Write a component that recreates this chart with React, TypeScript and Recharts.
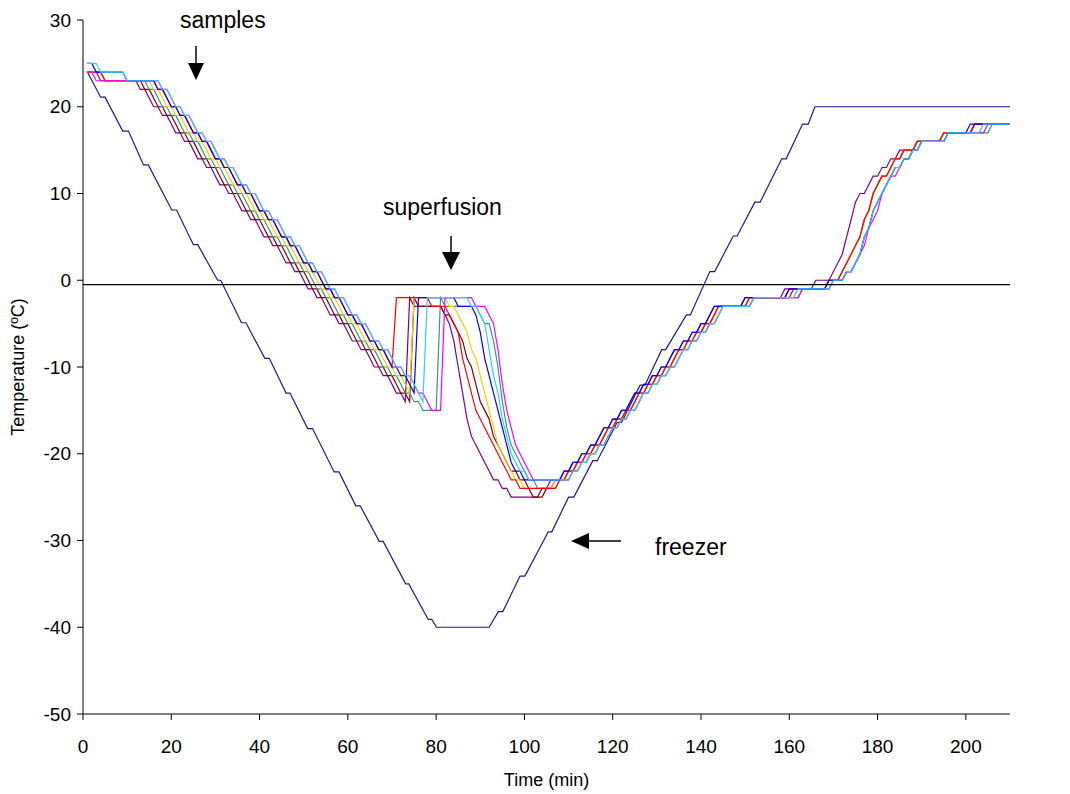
import { LineChart, Line, XAxis, YAxis, ReferenceLine } from "recharts";

// minutes 1..210, one reading per minute
const minutes = Array.from({ length: 210 }, (_, i) => i + 1);

const purple = [
  24, 24, 24, 23, 23, 23, 23, 23, 23, 23,
  23, 23, 22, 22, 21, 20, 20, 19, 19, 18,
  17, 17, 16, 16, 15, 14, 14, 13, 13, 12,
  11, 11, 10, 10, 9, 8, 8, 7, 7, 6,
  5, 5, 4, 4, 3, 2, 2, 1, 1, 0,
  -1, -1, -2, -2, -3, -4, -4, -5, -5, -6,
  -7, -7, -8, -8, -9, -10, -10, -11, -11, -12,
  -13, -13, -14, -2, -3, -3, -3, -3, -3, -3,
  -3, -4, -5, -7, -10, -13, -16, -18, -19, -20,
  -21, -22, -23, -23, -24, -24, -25, -25, -25, -25,
  -25, -25, -25, -24, -24, -23, -23, -23, -22, -22,
  -21, -21, -20, -20, -19, -19, -18, -17, -17, -16,
  -16, -15, -15, -14, -13, -13, -12, -12, -11, -11,
  -10, -10, -9, -8, -8, -7, -7, -6, -6, -5,
  -5, -4, -3, -3, -3, -3, -3, -3, -3, -2,
  -2, -2, -2, -2, -2, -2, -2, -2, -1, -1,
  -1, -1, -1, -1, -1, 0, 0, 0, 0, 1,
  2, 3, 5, 7, 9, 10, 10, 11, 12, 12,
  13, 13, 14, 14, 15, 15, 15, 15, 16, 16,
  16, 16, 16, 16, 17, 17, 17, 17, 17, 17,
  17, 18, 18, 18, 18, 18, 18, 18, 18, 18,
];

const maroon = [
  24, 24, 24, 24, 23, 23, 23, 23, 23, 23,
  23, 23, 23, 22, 22, 21, 20, 20, 19, 19,
  18, 17, 17, 16, 16, 15, 14, 14, 13, 13,
  12, 11, 11, 10, 10, 9, 8, 8, 7, 7,
  6, 5, 5, 4, 4, 3, 2, 2, 1, 1,
  0, -1, -1, -2, -2, -3, -4, -4, -5, -5,
  -6, -7, -7, -8, -8, -9, -10, -10, -11, -11,
  -12, -13, -13, -14, -2, -3, -3, -3, -3, -3,
  -3, -4, -4, -5, -6, -7, -9, -10, -12, -14,
  -15, -16, -18, -19, -20, -21, -22, -22, -23, -23,
  -24, -25, -25, -25, -24, -24, -23, -23, -23, -22,
  -22, -21, -21, -20, -20, -19, -19, -18, -17, -17,
  -16, -16, -15, -15, -14, -13, -13, -12, -12, -11,
  -11, -10, -10, -9, -8, -8, -7, -7, -6, -6,
  -5, -5, -4, -3, -3, -3, -3, -3, -3, -3,
  -2, -2, -2, -2, -2, -2, -2, -2, -2, -1,
  -1, -1, -1, -1, -1, -1, -1, -1, 0, 0,
  0, 1, 2, 3, 4, 5, 7, 8, 10, 11,
  12, 12, 13, 14, 14, 15, 15, 15, 16, 16,
  16, 16, 16, 16, 17, 17, 17, 17, 17, 17,
  17, 18, 18, 18, 18, 18, 18, 18, 18, 18,
];

const teal = [
  24, 24, 24, 24, 23, 23, 23, 23, 23, 23,
  23, 23, 23, 23, 22, 22, 21, 20, 20, 19,
  19, 18, 17, 17, 16, 16, 15, 14, 14, 13,
  13, 12, 11, 11, 10, 10, 9, 8, 8, 7,
  7, 6, 5, 5, 4, 4, 3, 2, 2, 1,
  1, 0, -1, -1, -2, -2, -3, -4, -4, -5,
  -5, -6, -7, -7, -8, -8, -9, -10, -10, -11,
  -11, -12, -13, -13, -14, -14, -15, -15, -15, -15,
  -2, -3, -3, -3, -3, -3, -3, -3, -3, -4,
  -5, -5, -7, -10, -14, -17, -19, -20, -21, -22,
  -23, -23, -24, -24, -24, -24, -24, -23, -23, -23,
  -22, -22, -21, -21, -20, -20, -19, -19, -18, -17,
  -17, -16, -16, -15, -15, -14, -13, -13, -12, -12,
  -11, -11, -10, -10, -9, -8, -8, -7, -7, -6,
  -6, -5, -5, -4, -3, -3, -3, -3, -3, -3,
  -3, -2, -2, -2, -2, -2, -2, -2, -2, -2,
  -2, -2, -1, -1, -1, -1, -1, -1, -1, 0,
  0, 0, 1, 1, 2, 3, 5, 6, 8, 9,
  10, 11, 12, 13, 13, 14, 14, 15, 15, 16,
  16, 16, 16, 16, 16, 17, 17, 17, 17, 17,
  17, 17, 17, 17, 17, 18, 18, 18, 18, 18,
];

const red = [
  24, 24, 24, 24, 23, 23, 23, 23, 23, 23,
  23, 23, 23, 23, 23, 23, 22, 22, 21, 20,
  20, 19, 19, 18, 17, 17, 16, 16, 15, 14,
  14, 13, 13, 12, 11, 11, 10, 10, 9, 8,
  8, 7, 7, 6, 5, 5, 4, 4, 3, 2,
  2, 1, 1, 0, -1, -1, -2, -2, -3, -4,
  -4, -5, -5, -6, -7, -7, -8, -8, -9, -10,
  -2, -2, -2, -2, -2, -2, -2, -2, -3, -3,
  -3, -3, -4, -5, -6, -9, -11, -13, -15, -16,
  -17, -18, -19, -20, -21, -22, -23, -23, -24, -24,
  -24, -24, -24, -24, -24, -24, -24, -23, -23, -22,
  -22, -21, -21, -20, -20, -19, -19, -18, -17, -17,
  -16, -16, -15, -15, -14, -13, -13, -12, -12, -11,
  -11, -10, -10, -9, -8, -8, -7, -7, -6, -6,
  -5, -5, -4, -3, -3, -3, -3, -3, -3, -3,
  -2, -2, -2, -2, -2, -2, -2, -2, -2, -2,
  -1, -1, -1, -1, -1, -1, -1, -1, 0, 0,
  0, 1, 2, 3, 4, 5, 7, 8, 10, 11,
  12, 12, 13, 14, 14, 15, 15, 15, 16, 16,
  16, 16, 16, 16, 17, 17, 17, 17, 17, 17,
  17, 18, 18, 18, 18, 18, 18, 18, 18, 18,
];

const gold = [
  24, 24, 24, 24, 23, 23, 23, 23, 23, 23,
  23, 23, 23, 23, 23, 22, 22, 21, 20, 20,
  19, 19, 18, 17, 17, 16, 16, 15, 14, 14,
  13, 13, 12, 11, 11, 10, 10, 9, 8, 8,
  7, 7, 6, 5, 5, 4, 4, 3, 2, 2,
  1, 1, 0, -1, -1, -2, -2, -3, -4, -4,
  -5, -5, -6, -7, -7, -8, -8, -9, -10, -10,
  -11, -11, -12, -13, -2, -2, -2, -2, -2, -2,
  -2, -2, -3, -3, -4, -5, -6, -8, -9, -11,
  -13, -15, -17, -19, -20, -21, -22, -23, -23, -24,
  -24, -24, -24, -24, -24, -24, -23, -23, -23, -22,
  -22, -21, -21, -20, -20, -19, -19, -18, -17, -17,
  -16, -16, -15, -15, -14, -13, -13, -12, -12, -11,
  -11, -10, -10, -9, -8, -8, -7, -7, -6, -6,
  -5, -5, -4, -3, -3, -3, -3, -3, -3, -3,
  -2, -2, -2, -2, -2, -2, -2, -2, -2, -2,
  -2, -1, -1, -1, -1, -1, -1, -1, -1, 0,
  0, 1, 2, 3, 4, 5, 7, 8, 10, 11,
  12, 12, 13, 14, 14, 15, 15, 15, 16, 16,
  16, 16, 16, 16, 17, 17, 17, 17, 17, 17,
  17, 17, 17, 18, 18, 18, 18, 18, 18, 18,
];

const blue = [
  25, 25, 24, 24, 24, 24, 24, 24, 24, 23,
  23, 23, 23, 23, 23, 23, 22, 22, 21, 20,
  20, 19, 19, 18, 17, 17, 16, 16, 15, 14,
  14, 13, 13, 12, 11, 11, 10, 10, 9, 8,
  8, 7, 7, 6, 5, 5, 4, 4, 3, 2,
  2, 1, 1, 0, -1, -1, -2, -2, -3, -4,
  -4, -5, -5, -6, -7, -7, -8, -8, -9, -10,
  -10, -11, -11, -12, -13, -2, -2, -2, -2, -2,
  -2, -2, -2, -2, -3, -3, -3, -3, -4, -6,
  -9, -11, -13, -15, -17, -19, -21, -22, -22, -23,
  -23, -23, -23, -23, -23, -23, -23, -23, -22, -22,
  -21, -21, -20, -20, -19, -19, -18, -17, -17, -16,
  -16, -15, -15, -14, -13, -13, -12, -12, -11, -11,
  -10, -10, -9, -8, -8, -7, -7, -6, -6, -5,
  -5, -4, -3, -3, -3, -3, -3, -3, -3, -2,
  -2, -2, -2, -2, -2, -2, -2, -2, -2, -1,
  -1, -1, -1, -1, -1, -1, -1, -1, 0, 0,
  0, 0, 1, 1, 2, 3, 5, 6, 8, 9,
  10, 11, 12, 13, 13, 14, 14, 15, 15, 16,
  16, 16, 16, 16, 16, 17, 17, 17, 17, 17,
  18, 18, 18, 18, 18, 18, 18, 18, 18, 18,
];

const cyan = [
  25, 25, 25, 24, 24, 24, 24, 24, 24, 23,
  23, 23, 23, 23, 23, 23, 23, 22, 22, 21,
  20, 20, 19, 19, 18, 17, 17, 16, 16, 15,
  14, 14, 13, 13, 12, 11, 11, 10, 10, 9,
  8, 8, 7, 7, 6, 5, 5, 4, 4, 3,
  2, 2, 1, 1, 0, -1, -1, -2, -2, -3,
  -4, -4, -5, -5, -6, -7, -7, -8, -8, -9,
  -10, -10, -11, -11, -12, -13, -14, -2, -2, -2,
  -2, -2, -2, -2, -2, -2, -2, -3, -3, -4,
  -5, -8, -11, -13, -16, -18, -20, -21, -22, -22,
  -23, -23, -23, -23, -23, -23, -23, -23, -23, -23,
  -22, -22, -21, -21, -20, -20, -19, -19, -18, -17,
  -17, -16, -16, -15, -15, -14, -13, -13, -12, -12,
  -11, -11, -10, -10, -9, -8, -8, -7, -7, -6,
  -6, -5, -5, -4, -3, -3, -3, -3, -3, -3,
  -3, -2, -2, -2, -2, -2, -2, -2, -2, -2,
  -2, -1, -1, -1, -1, -1, -1, -1, -1, 0,
  0, 0, 1, 1, 2, 3, 5, 6, 8, 9,
  10, 11, 12, 13, 13, 14, 14, 15, 15, 16,
  16, 16, 16, 16, 16, 17, 17, 17, 17, 17,
  17, 17, 17, 18, 18, 18, 18, 18, 18, 18,
];

const magenta = [
  24, 24, 23, 23, 23, 23, 23, 23, 23, 23,
  23, 23, 23, 23, 23, 23, 23, 22, 22, 21,
  20, 20, 19, 19, 18, 17, 17, 16, 16, 15,
  14, 14, 13, 13, 12, 11, 11, 10, 10, 9,
  8, 8, 7, 7, 6, 5, 5, 4, 4, 3,
  2, 2, 1, 1, 0, -1, -1, -2, -2, -3,
  -4, -4, -5, -5, -6, -7, -7, -8, -8, -9,
  -10, -10, -11, -11, -12, -13, -13, -14, -15, -15,
  -15, -2, -2, -2, -2, -2, -2, -2, -3, -3,
  -3, -4, -5, -8, -12, -15, -17, -19, -20, -21,
  -22, -23, -23, -23, -23, -23, -23, -23, -23, -23,
  -22, -22, -21, -21, -20, -20, -19, -19, -18, -17,
  -17, -16, -16, -15, -15, -14, -13, -13, -12, -12,
  -11, -11, -10, -10, -9, -8, -8, -7, -7, -6,
  -6, -5, -5, -4, -3, -3, -3, -3, -3, -3,
  -3, -2, -2, -2, -2, -2, -2, -2, -2, -2,
  -2, -2, -1, -1, -1, -1, -1, -1, -1, 0,
  0, 0, 1, 1, 2, 3, 4, 6, 7, 8,
  10, 11, 12, 12, 13, 14, 14, 15, 15, 16,
  16, 16, 16, 16, 16, 17, 17, 17, 17, 17,
  17, 17, 17, 17, 18, 18, 18, 18, 18, 18,
];

// freezer: corner points of its ramp
const freezerTime = [
  1, 4, 5, 9, 10.3, 13.7, 14.8, 20.1, 21.2, 25, 26, 30.5, 31.2, 35.9, 36.9,
  41.2, 42.2, 46, 46.9, 50.9, 52, 56.9, 58, 61.8, 62.8, 67.1, 68, 73.1, 73.8,
  78.2, 79, 80.1, 92, 94.1, 95.1, 99, 100.1, 105.4, 106.2, 110, 111.2, 115.5,
  116.5, 121, 122, 126.2, 127.3, 131.1, 132, 136.7, 137.6, 142, 143.1, 147.3,
  148.2, 152.2, 153.4, 158.3, 159.3, 163, 164.3, 165.8, 210,
];
const freezerTemp = [
  24, 21.1, 21.1, 17.2, 17.2, 13.3, 13.3, 8.1, 8.1, 4.1, 4.1, 0, 0, -4.9, -4.9,
  -9, -9, -13, -13, -17.1, -17.1, -22.1, -22.1, -26, -26, -30.1, -30.1, -35, -35,
  -39.1, -39.1, -40, -40, -38.2, -38.2, -34.1, -34.1, -29, -29, -25, -25, -20.8,
  -20.8, -16.4, -16.4, -12.1, -12.1, -8, -8, -4, -4, 1, 1, 5.1, 5.1,
  9, 9, 14, 14, 18, 18, 20, 20,
];

const xTicks = [0, 20, 40, 60, 80, 100, 120, 140, 160, 180, 200];
const yTicks = [-50, -40, -30, -20, -10, 0, 10, 20, 30];
const meltLine = -0.5;

const series = [
  { key: "purple", color: "#800080", values: purple },
  { key: "maroon", color: "#800000", values: maroon },
  { key: "teal", color: "#339980", values: teal },
  { key: "gold", color: "#FFCC00", values: gold },
  { key: "red", color: "#FF0000", values: red },
  { key: "magenta", color: "#FF00FF", values: magenta },
  { key: "blue", color: "#0000FF", values: blue },
  { key: "cyan", color: "#33CCFF", values: cyan },
];

const rows = minutes.map((t, i) => {
  const row: Record<string, number> = { t };
  series.forEach((s) => {
    row[s.key] = s.values[i];
  });
  return row;
});

const freezerRows = freezerTime.map((t, i) => ({ t, freezer: freezerTemp[i] }));

const font = "'Liberation Sans', Arial, sans-serif";

export default function App() {
  return (
    <div
      style={{
        position: "absolute",
        left: 0,
        top: 0,
        width: 1070,
        height: 794,
        background: "#fff",
        fontFamily: font,
      }}
    >
      <LineChart
        width={1070}
        height={794}
        data={rows}
        margin={{ top: 20, right: 60, bottom: 0, left: 0 }}
      >
        <XAxis
          dataKey="t"
          type="number"
          domain={[0, 210]}
          ticks={xTicks}
          interval={0}
          height={80}
          tickSize={6}
          tickMargin={20}
          stroke="#000"
          tick={{ fill: "#000", fontSize: 19, fontFamily: font }}
          label={{
            value: "Time (min)",
            position: "insideBottom",
            offset: 8,
            fill: "#000",
            fontSize: 18,
            fontFamily: font,
          }}
        />
        <YAxis
          type="number"
          domain={[-50, 30]}
          ticks={yTicks}
          interval={0}
          width={83}
          tickSize={6}
          tickMargin={6}
          stroke="#000"
          tick={{ fill: "#000", fontSize: 19, fontFamily: font }}
          label={{
            value: "Temperature (ºC)",
            angle: -90,
            position: "insideLeft",
            offset: 18,
            fill: "#000",
            fontSize: 18,
            fontFamily: font,
            style: { textAnchor: "middle" },
          }}
        />
        <Line
          data={freezerRows}
          dataKey="freezer"
          type="linear"
          stroke="#1B1B86"
          strokeWidth={1.2}
          dot={false}
          isAnimationActive={false}
        />
        {series.map((s) => (
          <Line
            key={s.key}
            dataKey={s.key}
            type="linear"
            stroke={s.color}
            strokeWidth={1.2}
            dot={false}
            isAnimationActive={false}
          />
        ))}
        <ReferenceLine y={meltLine} stroke="#000" strokeWidth={1.2} />
      </LineChart>
      <svg
        width={1070}
        height={794}
        style={{ position: "absolute", left: 0, top: 0, pointerEvents: "none" }}
        fontFamily={font}
      >
        <text x={180} y={28} fontSize={23} fill="#000">
          samples
        </text>
        <line x1={196} y1={46} x2={196} y2={64} stroke="#000" strokeWidth={1.5} />
        <polygon points="188,63 204,63 196,80" fill="#000" />
        <text x={383} y={215} fontSize={23} fill="#000">
          superfusion
        </text>
        <line x1={451} y1={236} x2={451} y2={253} stroke="#000" strokeWidth={1.5} />
        <polygon points="442,252 460,252 451,270" fill="#000" />
        <text x={655} y={555} fontSize={23} fill="#000">
          freezer
        </text>
        <line x1={621} y1={541} x2={588} y2={541} stroke="#000" strokeWidth={1.5} />
        <polygon points="589,533 589,549 571,541" fill="#000" />
      </svg>
    </div>
  );
}
